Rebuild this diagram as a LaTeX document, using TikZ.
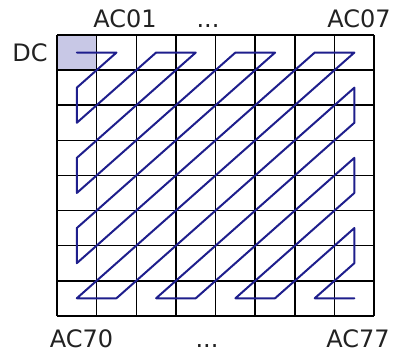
\documentclass[tikz,border=0pt]{standalone}
\usepackage{fontspec}
\newfontfamily\lblfont{DejaVu Sans}
\usepackage{tikz}
\definecolor{ZigNavy}{HTML}{1E1E8C}
\definecolor{DCFill}{HTML}{C8C8E6}
\definecolor{LblGray}{HTML}{222222}
\tikzset{
  gridline/.style={line width=1.6pt,black},
  zigline/.style={line width=2pt,ZigNavy,line join=round,line cap=round},
  lbl/.style={anchor=base,inner sep=0pt,LblGray,font=\lblfont\fontsize{24}{28}\selectfont}
}

\begin{document}
\begin{tikzpicture}[x=39.65pt,y=-35.1pt]
  \useasboundingbox (-1.4376,-0.9972) rectangle (8.4741,9.1453);
  % DC cell
  \fill[DCFill] (0,0) rectangle (1,1);
  % 8x8 block
  \foreach \i in {0,...,8} {
    \draw[gridline] (\i,0) -- (\i,8);
    \draw[gridline] (0,\i) -- (8,\i);
  }
  % zigzag scan through the cell centres
  \draw[zigline,shift={(0.5,0.5)}]
    (0,0) -- (1,0) -- (0,1) -- (0,2) -- (2,0) -- (3,0) -- (0,3) -- (0,4)
    -- (4,0) -- (5,0) -- (0,5) -- (0,6) -- (6,0) -- (7,0) -- (0,7) -- (1,7)
    -- (7,1) -- (7,2) -- (2,7) -- (3,7) -- (7,3) -- (7,4) -- (4,7) -- (5,7)
    -- (7,5) -- (7,6) -- (6,7) -- (7,7);
  % coefficient labels
  \node[lbl] (dc)    at (-0.681,0.769) {DC};
  \node[lbl] (ac01)  at (1.715,-0.2)   {AC01};
  \node[lbl] (topdots) at (3.808,-0.2) {...};
  \node[lbl] (ac07)  at (7.617,-0.2)   {AC07};
  \node[lbl] (ac70)  at (0.618,8.917)  {AC70};
  \node[lbl] (botdots) at (3.783,8.917) {...};
  \node[lbl] (ac77)  at (7.59,8.917)   {AC77};
\end{tikzpicture}
\end{document}
